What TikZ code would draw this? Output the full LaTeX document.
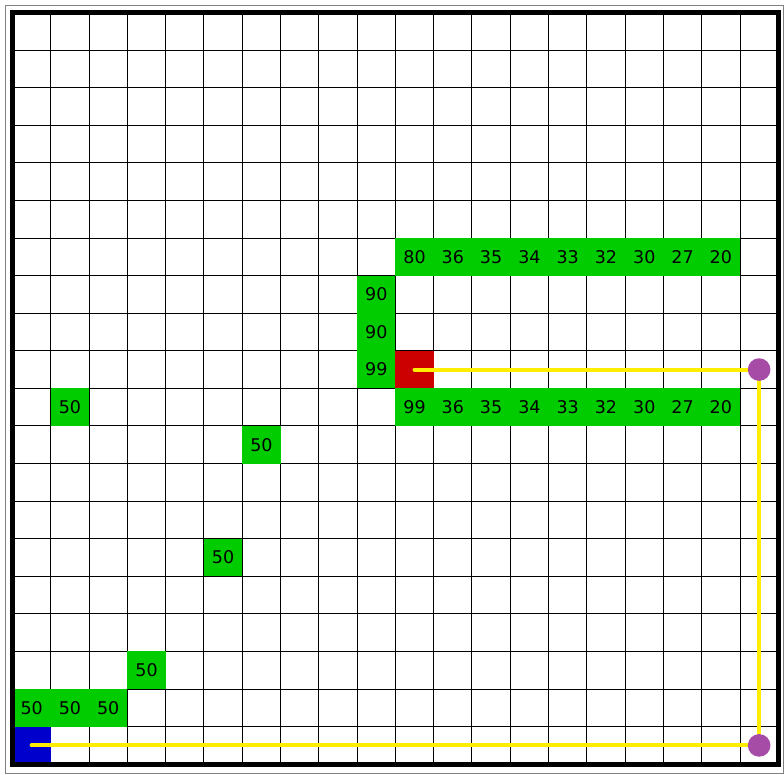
\documentclass[tikz,border=0pt]{standalone}
\usepackage{fontspec}
\setmainfont{DejaVu Sans}
\definecolor{cgreen}{HTML}{00CC00}
\definecolor{cblue}{HTML}{0000CC}
\definecolor{cred}{HTML}{CC0000}
\definecolor{cpurple}{HTML}{A64CA6}
\definecolor{cyellow}{HTML}{FFEE00}
\newcommand{\cellnode}[5]{\node[#1] (#2) at ({12.5+(#3+0.5)*38.29},{12.5+(#4+0.5)*37.585}) {#5};}
\begin{document}
\begin{tikzpicture}[x=1pt,y=-1pt,
  cellbase/.style={inner sep=0pt,outer sep=0pt,minimum width=38.29pt,minimum height=37.585pt,
    font=\fontsize{17.5}{20}\selectfont},
  gc/.style={cellbase,fill=cgreen,text=black},
  startcell/.style={cellbase,fill=cblue},
  goalcell/.style={cellbase,fill=cred},
  gridline/.style={black,line width=1pt},
  route/.style={cyellow,line width=4pt,line cap=round},
  waypt/.style={circle,fill=cpurple,inner sep=0pt,minimum size=22.6pt}]
\useasboundingbox (0,0) rectangle (784,775);
\fill[white] (0,0) rectangle (784,775);
\draw[gray,line width=1pt] (5.5,5.5) rectangle (783,773);
% grid
\foreach \i in {1,...,19} {
  \draw[gridline] ({12.5+\i*38.29},12.5) -- ({12.5+\i*38.29},764.2);
  \draw[gridline] (12.5,{12.5+\i*37.585}) -- (778.3,{12.5+\i*37.585});
}
% green cells
\cellnode{gc}{s1}{1}{10}{50}
\cellnode{gc}{s2}{6}{11}{50}
\cellnode{gc}{s3}{5}{14}{50}
\cellnode{gc}{s4}{3}{17}{50}
\cellnode{gc}{s5}{0}{18}{50}
\cellnode{gc}{s6}{1}{18}{50}
\cellnode{gc}{s7}{2}{18}{50}
\cellnode{gc}{v1}{9}{7}{90}
\cellnode{gc}{v2}{9}{8}{90}
\cellnode{gc}{v3}{9}{9}{99}
\foreach \v [count=\k from 0] in {80,36,35,34,33,32,30,27,20} {
  \cellnode{gc}{t\k}{10+\k}{6}{\v}
}
\foreach \v [count=\k from 0] in {99,36,35,34,33,32,30,27,20} {
  \cellnode{gc}{b\k}{10+\k}{10}{\v}
}
\cellnode{startcell}{start}{0}{19}{}
\cellnode{goalcell}{goal}{10}{9}{}
% thick border
\draw[black,line width=5pt] (12.5,12.5) rectangle (778.3,764.2);
% route
\coordinate (p1) at ({12.5+19.5*38.29},{12.5+19.5*37.585});
\coordinate (p2) at ({12.5+19.5*38.29},{12.5+9.5*37.585});
\draw[route] (start.center) -- (p1) -- (p2) -- (goal.center);
\node[waypt] (w1) at (p1) {};
\node[waypt] (w2) at (p2) {};
\end{tikzpicture}
\end{document}
